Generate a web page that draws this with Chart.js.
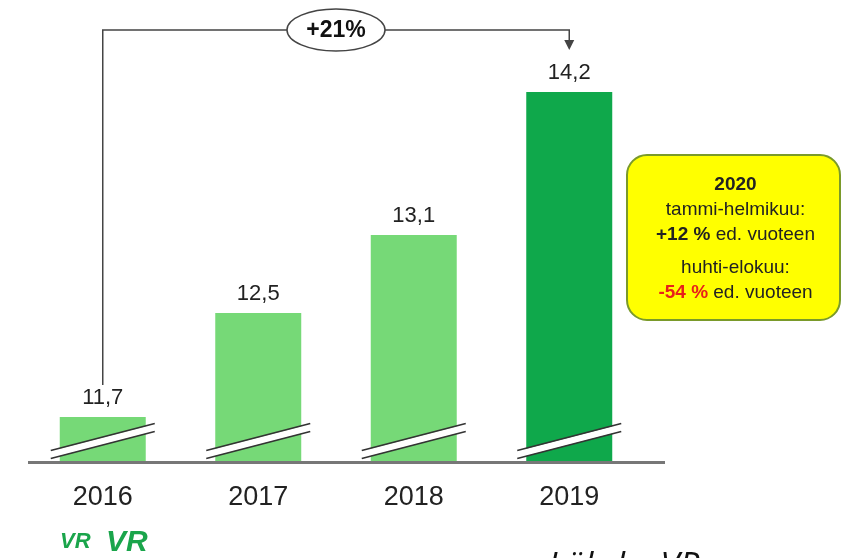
<!DOCTYPE html>
<html>
<head>
<meta charset="utf-8">
<script src="https://cdn.jsdelivr.net/npm/chart.js@4/dist/chart.umd.min.js"></script>
<style>
  html, body { margin: 0; padding: 0; background: #fff; }
  #wrap { width: 845px; height: 558px; position: relative; }
</style>
</head>
<body>
<div id="wrap"><canvas id="VR_CHART" width="845" height="558"></canvas></div>
<script>
var years = ['2016', '2017', '2018', '2019'];
var passengers = [11.7, 12.5, 13.1, 14.2];
var barColors = ['#76d977', '#76d977', '#76d977', '#0fa84b'];
var growthLabel = '+21%';

var ctx = document.getElementById('VR_CHART').getContext('2d');

function fmt(v) {
  return v.toFixed(1).replace('.', ',');
}

// value labels, break marks, arrow and the side note
var extras = {
  id: 'extras',
  afterDatasetsDraw: function(chart) {
    var c = chart.ctx;
    var area = chart.chartArea;
    var meta = chart.getDatasetMeta(0);
    var base = area.bottom;

    // axis line
    c.save();
    c.strokeStyle = '#777';
    c.lineWidth = 3;
    c.beginPath();
    c.moveTo(28, base);
    c.lineTo(665, base);
    c.stroke();

    // break marks
    meta.data.forEach(function(bar) {
      var left = bar.x - bar.width / 2 - 9;
      var right = bar.x + bar.width / 2 + 9;
      var y0 = base - 8, y1 = base - 35;
      c.strokeStyle = '#fff';
      c.lineWidth = 7;
      c.beginPath();
      c.moveTo(left, y0);
      c.lineTo(right, y1);
      c.stroke();
      c.strokeStyle = '#333';
      c.lineWidth = 1.6;
      [-4, 4].forEach(function(d) {
        c.beginPath();
        c.moveTo(left, y0 + d);
        c.lineTo(right, y1 + d);
        c.stroke();
      });
    });

    // value labels
    c.fillStyle = '#222';
    c.font = '22px "Liberation Sans", Arial, sans-serif';
    c.textAlign = 'center';
    c.textBaseline = 'bottom';
    meta.data.forEach(function(bar, i) {
      c.fillText(fmt(passengers[i]), bar.x, bar.y - 8);
    });

    // growth arrow
    var first = meta.data[0], last = meta.data[meta.data.length - 1];
    var topY = 30;
    c.strokeStyle = '#444';
    c.lineWidth = 1.5;
    c.beginPath();
    c.moveTo(first.x, first.y - 32);
    c.lineTo(first.x, topY);
    c.lineTo(last.x, topY);
    c.lineTo(last.x, 42);
    c.stroke();
    c.fillStyle = '#444';
    c.beginPath();
    c.moveTo(last.x - 5, 40);
    c.lineTo(last.x + 5, 40);
    c.lineTo(last.x, 50);
    c.closePath();
    c.fill();

    var cx = 336;
    c.fillStyle = '#fff';
    c.strokeStyle = '#444';
    c.lineWidth = 1.5;
    c.beginPath();
    c.ellipse(cx, topY, 49, 21, 0, 0, Math.PI * 2);
    c.fill();
    c.stroke();
    c.fillStyle = '#111';
    c.font = 'bold 23px "Liberation Sans Narrow", "Liberation Sans", Arial, sans-serif';
    c.textBaseline = 'middle';
    c.fillText(growthLabel, cx, topY + 1);

    // side note box
    var bx = 627, by = 155, bw = 213, bh = 165;
    c.fillStyle = '#ffff00';
    c.strokeStyle = '#7a9a2a';
    c.lineWidth = 2;
    c.beginPath();
    c.roundRect(bx, by, bw, bh, 20);
    c.fill();
    c.stroke();

    var mx = bx + bw / 2 + 2;
    var f = '19px "Liberation Sans", Arial, sans-serif';
    var fb = 'bold 19px "Liberation Sans", Arial, sans-serif';
    c.textBaseline = 'middle';
    c.fillStyle = '#222';
    c.font = fb;
    c.fillText('2020', mx, 185);
    c.font = f;
    c.fillText('tammi-helmikuu:', mx, 210);
    c.fillText('huhti-elokuu:', mx, 268);

    function mixed(boldPart, boldColor, rest, y) {
      c.font = fb;
      var w1 = c.measureText(boldPart).width;
      c.font = f;
      var w2 = c.measureText(rest).width;
      var x = mx - (w1 + w2) / 2;
      c.textAlign = 'left';
      c.font = fb;
      c.fillStyle = boldColor;
      c.fillText(boldPart, x, y);
      c.font = f;
      c.fillStyle = '#222';
      c.fillText(rest, x + w1, y);
      c.textAlign = 'center';
    }
    mixed('+12 %', '#222', ' ed. vuoteen', 235);
    mixed('-54 %', '#e8201a', ' ed. vuoteen', 293);

    // logo and source
    c.textAlign = 'left';
    c.textBaseline = 'alphabetic';
    c.fillStyle = '#1aa54b';
    c.font = 'italic bold 22px "Liberation Sans", Arial, sans-serif';
    c.fillText('VR', 60, 548);
    c.font = 'italic bold 30px "Liberation Sans", Arial, sans-serif';
    c.fillText('VR', 106, 551);
    c.fillStyle = '#111';
    c.font = 'italic 35px "Open Sans", "Liberation Sans", sans-serif';
    c.fillText('Lähde: VR', 548, 577);
    c.restore();
  }
};

var vrChart = new Chart(ctx, {
  type: 'bar',
  data: {
    labels: years,
    datasets: [{
      data: passengers,
      backgroundColor: barColors,
      borderWidth: 0,
      categoryPercentage: 1,
      barPercentage: 0.553
    }]
  },
  options: {
    responsive: false,
    animation: false,
    layout: {
      padding: { left: 25, right: 198, top: 40, bottom: 25 }
    },
    plugins: {
      legend: { display: false },
      tooltip: { enabled: false }
    },
    scales: {
      y: {
        display: false,
        min: 11.35,
        max: 14.6
      },
      x: {
        grid: { display: false, drawTicks: false },
        border: { display: false },
        ticks: {
          color: '#222',
          padding: 19,
          font: { size: 27, family: '"Liberation Sans", Arial, sans-serif' }
        }
      }
    }
  },
  plugins: [extras]
});
</script>
</body>
</html>
